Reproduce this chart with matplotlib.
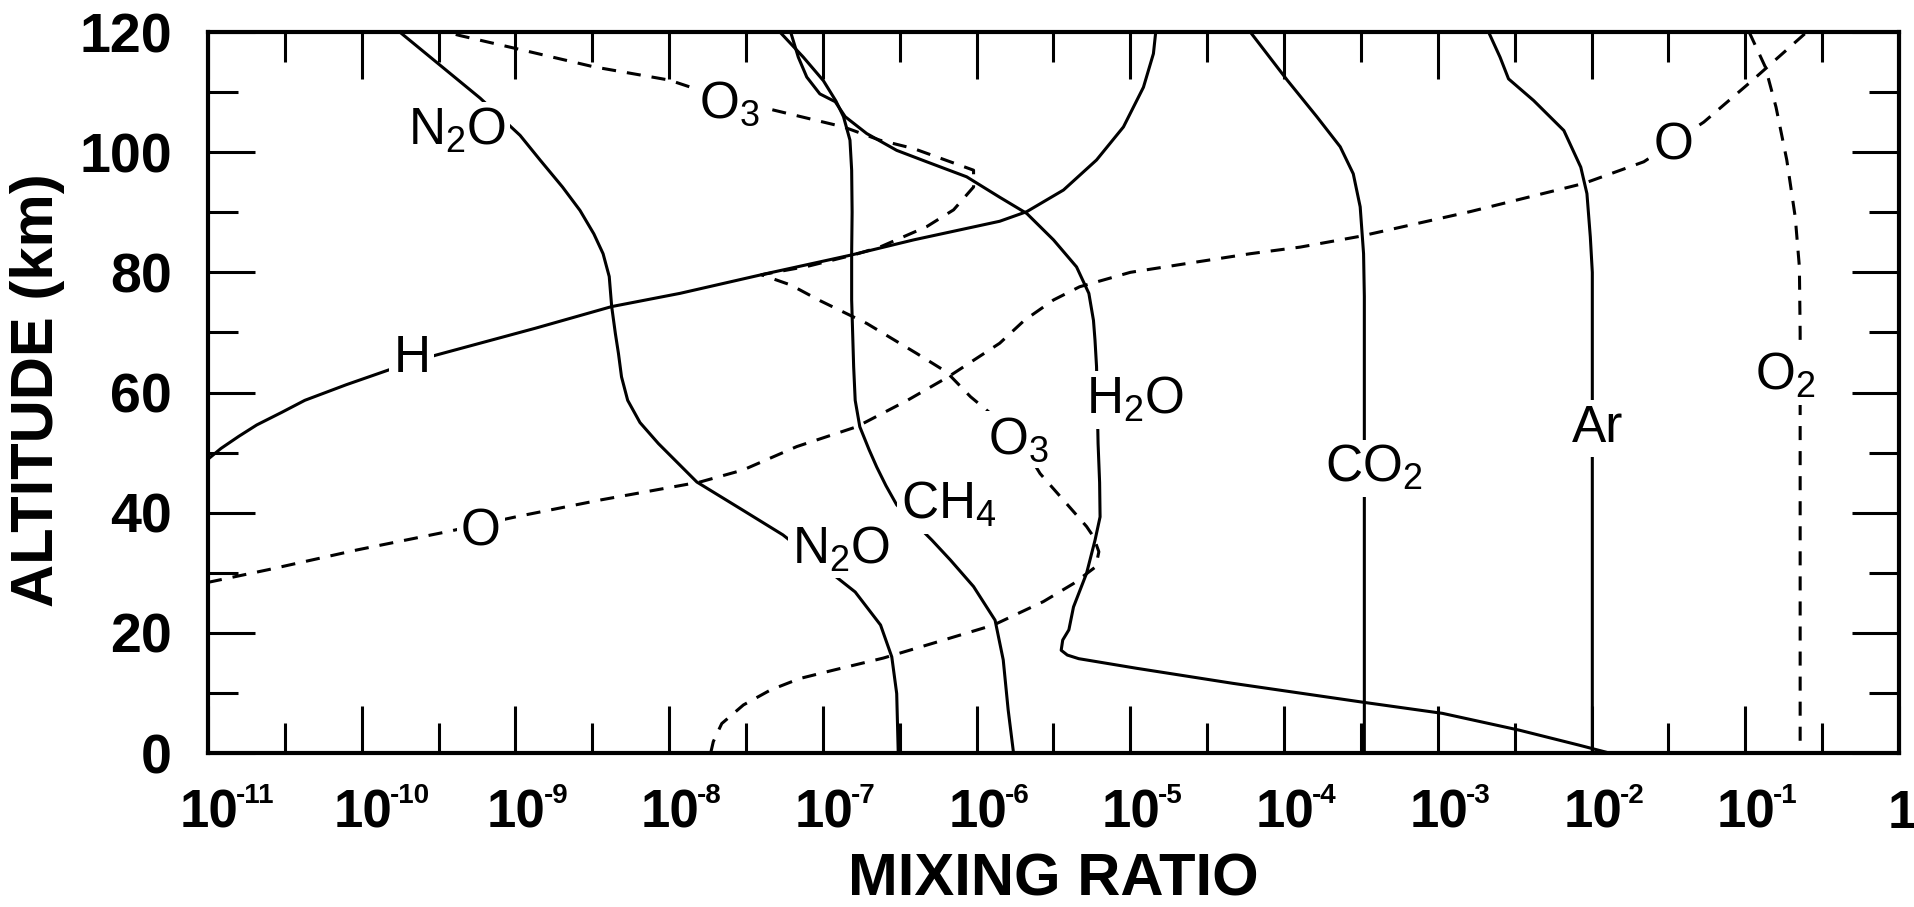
import numpy as np
import matplotlib
matplotlib.use("Agg")
import matplotlib.pyplot as plt
from matplotlib.transforms import ScaledTranslation
from matplotlib.ticker import NullFormatter

plt.rcParams['font.family'] = ['Liberation Sans', 'DejaVu Sans']
plt.rcParams['mathtext.fontset'] = 'custom'
plt.rcParams['mathtext.rm'] = 'Liberation Sans'
plt.rcParams['mathtext.it'] = 'Liberation Sans:italic'
plt.rcParams['mathtext.bf'] = 'Liberation Sans:bold'

# ---- data: altitude (km) and log10 of mixing ratio ----
n2o_alt = [120, 109, 102.8, 98.7, 94.2, 90.3, 86.4, 83.1, 79.3, 74.3, 69.8, 66.5, 62.6, 58.7, 55.0,
           51.5, 45.1, 40.4, 36.3, 26.8, 21.3, 16.0, 9.9, 5.0, 0]
n2o_log = [-9.753, -9.23, -8.97, -8.84, -8.694, -8.58, -8.49, -8.43, -8.39, -8.374, -8.35, -8.33, -8.31,
           -8.27, -8.19, -8.07, -7.82, -7.52, -7.26, -6.79, -6.625, -6.552, -6.52, -6.515, -6.51]

ch4_alt = [120, 115.8, 111.9, 108.5, 105.9, 102, 97, 90, 83.2, 75.4, 64.3, 58.7, 54.3, 50.5, 47.6,
           44.5, 41.3, 35.4, 32.1, 27.7, 22.1, 15.5, 7.2, 0]
ch4_log = [-7.28, -7.127, -6.997, -6.915, -6.866, -6.824, -6.813, -6.81, -6.813, -6.813, -6.80, -6.79,
           -6.76, -6.70, -6.65, -6.59, -6.52, -6.29, -6.17, -6.02, -5.88, -5.827, -5.795, -5.76]

h2o_alt = [120, 115.8, 112.5, 109.7, 108.4, 105.9, 103.1, 100.3, 98.4, 95.9, 92.5, 89.8, 85.4, 80.9,
           76.5, 72, 68.7, 64.3, 51.5, 45, 39.3, 35.4, 29.9, 24.3, 20.5, 18.8, 17.1, 16.3, 15.7,
           14.1, 11.6, 8.4, 6.6, 3.8, 1.3, 0]
h2o_log = [-7.21, -7.16, -7.105, -7.02, -6.92, -6.855, -6.715, -6.52, -6.325, -6.065, -5.85, -5.674,
           -5.50, -5.35, -5.27, -5.24, -5.23, -5.22, -5.21, -5.20, -5.197, -5.23, -5.285, -5.37,
           -5.40, -5.44, -5.45, -5.41, -5.336, -4.96, -4.335, -3.473, -2.97, -2.47, -2.08, -1.885]

h_alt = [48.9, 50.7, 52.7, 54.6, 56.7, 58.7, 61.3, 64.0, 66.2, 70.7, 74.3, 76.5, 79.8, 82.9, 85.4,
         88.5, 90.1, 93.7, 98.7, 104.2, 110.8, 116.4, 120]
h_log = [-11.0, -10.915, -10.80, -10.683, -10.52, -10.37, -10.10, -9.797, -9.52, -8.87, -8.374,
         -7.93, -7.366, -6.813, -6.41, -5.85, -5.674, -5.435, -5.22, -5.045, -4.915, -4.85, -4.835]

co2_alt = [120, 112, 105.9, 100.9, 96.4, 90.9, 83.1, 76, 0]
co2_log = [-4.22, -3.98, -3.787, -3.635, -3.55, -3.505, -3.483, -3.478, -3.478]

ar_alt = [120, 115.8, 112.2, 108.6, 103.6, 97.5, 93.1, 85.9, 80, 0]
ar_log = [-2.67, -2.595, -2.54, -2.377, -2.18, -2.07, -2.03, -2.008, -1.995, -1.995]

o2_alt = [120, 114.2, 107.5, 98.7, 89.2, 80.9, 70, 0]
o2_log = [-0.975, -0.87, -0.80, -0.73, -0.675, -0.648, -0.643, -0.643]

o_alt = [28.4, 30.5, 33.8, 36.8, 39.4, 42.1, 45.1, 47.1, 51.0, 54.3, 58.7, 62.6, 68.2, 72.0, 75.4,
         77.6, 80.0, 81.6, 83.1, 84.2, 86.0, 90.1, 94.8, 98.4, 105.0, 111.7, 119.2, 120]
o_log = [-11.0, -10.61, -10.03, -9.45, -8.98, -8.45, -7.80, -7.52, -7.17, -6.78, -6.45, -6.185,
         -5.85, -5.69, -5.50, -5.33, -5.0, -4.6, -4.22, -3.895, -3.505, -2.79, -2.05, -1.66, -1.27,
         -0.965, -0.635, -0.60]

o3_alt = [0, 1.9, 4.9, 8.0, 10.5, 12.4, 13.8, 15.8, 18.3, 21.3, 25.2, 28.2, 31.0, 33.5, 36.0, 37.7,
          41.5, 46.5, 52.9, 59.3, 63.4, 66.5, 71.5, 75.3, 77.9, 79.6, 81.0, 82.9, 84.2, 87.6, 90.4,
          94.2, 97.0, 100.6, 102.0, 104.2, 107.0, 110.3, 112.0, 114.2, 117.0, 119.4, 120]
o3_log = [-7.73, -7.713, -7.658, -7.517, -7.34, -7.15, -6.93, -6.607, -6.28, -5.89, -5.566, -5.37,
          -5.225, -5.205, -5.24, -5.285, -5.415, -5.587, -5.74, -6.04, -6.195, -6.39, -6.715, -7.02,
          -7.21, -7.40, -7.10, -6.80, -6.63, -6.325, -6.15, -6.02, -6.02, -6.41, -6.63, -6.866,
          -7.32, -7.80, -8.0, -8.49, -8.955, -9.36, -9.45]

# labels: text, log10 x centre, baseline altitude
label_text = [r'N$_2$O', 'H', r'O$_3$', r'H$_2$O', r'O$_3$', r'CH$_4$', r'N$_2$O', 'O',
              r'CO$_2$', 'Ar', 'O', r'O$_2$']
label_x = [-9.38, -9.674, -7.61, -4.97, -5.728, -6.18, -6.883, -9.224, -3.414, -1.96, -1.468, -0.738]
label_y = [101.2, 63.4, 105.8, 56.5, 49.9, 39.0, 31.6, 34.5, 45.1, 51.8, 98.7, 60.4]

decade_exps = list(range(-11, 1))
y_major = [0, 20, 40, 60, 80, 100, 120]
y_minor = [10, 30, 50, 70, 90, 110]

# ---- figure ----
W, H = 1915, 907
dpi = 100
fig = plt.figure(figsize=(W / dpi, H / dpi), dpi=dpi)
L, R, T, B = 208, 1899, 32, 753
ax = fig.add_axes([L / W, (H - B) / H, (R - L) / W, (B - T) / H])

lw = 2.2
dash = (0, (4.6, 3.6))
solid = [(n2o_alt, n2o_log), (ch4_alt, ch4_log), (h2o_alt, h2o_log), (h_alt, h_log),
         (co2_alt, co2_log), (ar_alt, ar_log)]
dashed = [(o2_alt, o2_log), (o_alt, o_log), (o3_alt, o3_log)]
for a, lg in solid:
    ax.plot(10.0 ** np.array(lg), a, color='black', lw=lw, solid_capstyle='round',
            solid_joinstyle='round')
for a, lg in dashed:
    ax.plot(10.0 ** np.array(lg), a, color='black', lw=lw, linestyle=dash)

ax.set_xscale('log')
ax.set_xlim(1e-11, 1)
ax.set_ylim(0, 120)

ax.set_xticks([10.0 ** k for k in decade_exps])
ax.set_xticks([10.0 ** (k + 0.5) for k in decade_exps[:-1]], minor=True)
ax.xaxis.set_major_formatter(NullFormatter())
ax.xaxis.set_minor_formatter(NullFormatter())
ax.set_yticks(y_major)
ax.set_yticks(y_minor, minor=True)
ax.set_yticklabels([str(v) for v in y_major])

ax.tick_params(which='major', direction='in', length=34, width=2.2, top=True, right=True,
               labelsize=40, pad=26)
ax.tick_params(which='minor', direction='in', length=21.6, width=2.2, top=True, right=True)
for lab in ax.get_yticklabels():
    lab.set_fontweight('bold')
for sp in ax.spines.values():
    sp.set_linewidth(3.0)

# x tick labels: "10" with raised exponent
xt = ax.get_xaxis_transform()
for k in decade_exps:
    xv = 10.0 ** k
    if k == 0:
        ax.text(xv, 0, '1', transform=xt + ScaledTranslation(3 / dpi, -75 / dpi, fig.dpi_scale_trans),
                ha='center', va='baseline', fontsize=38, fontweight='bold', clip_on=False)
        continue
    ax.text(xv, 0, '10', transform=xt + ScaledTranslation(1 / dpi, -75 / dpi, fig.dpi_scale_trans),
            ha='center', va='baseline', fontsize=38, fontweight='bold', clip_on=False)
    ax.text(xv, 0, '-' + str(-k),
            transform=xt + ScaledTranslation(28 / dpi, -50 / dpi, fig.dpi_scale_trans),
            ha='left', va='baseline', fontsize=20, fontweight='bold', clip_on=False)

# curve labels
for txt, lx, ly in zip(label_text, label_x, label_y):
    ax.text(10.0 ** lx, ly, txt, ha='center', va='baseline', fontsize=37, zorder=5,
            bbox=dict(boxstyle='square,pad=0.08', fc='white', ec='none'))

fig.text(37.5 / W, 1 - 390 / H, 'ALTITUDE (km)', rotation=90, ha='center', va='center',
         fontsize=43, fontweight='bold')
fig.text(1053 / W, 1 - 880 / H, 'MIXING RATIO', ha='center', va='center',
         fontsize=43, fontweight='bold')

fig.savefig('out.png', dpi=dpi, facecolor='white')
